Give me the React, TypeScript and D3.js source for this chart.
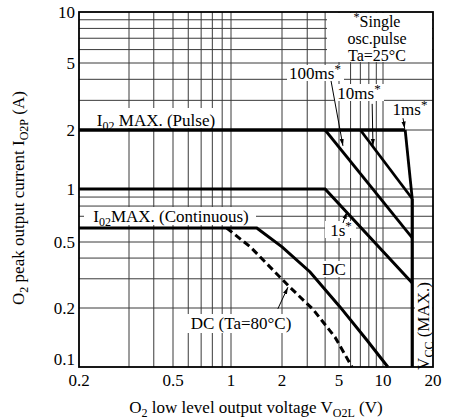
import React from 'react';
import * as d3 from 'd3';

type Pt = [number, number];

// ---- axis ticks / grid ----
const xTickValues = [0.2, 0.5, 1, 2, 5, 10, 20];
const xTickLabels = ['0.2', '0.5', '1', '2', '5', '10', '20'];
const yTickValues = [10, 5, 2, 1, 0.5, 0.2, 0.1];
const yTickLabels = ['10', '5', '2', '1', '0.5', '0.2', '0.1'];
const xGridValues = [0.3, 0.4, 0.5, 0.6, 0.7, 0.8, 0.9, 1, 2, 3, 4, 5, 6, 7, 8, 9, 10];
const yGridValues = [9, 8, 7, 6, 5, 4, 3, 2, 1, 0.9, 0.8, 0.7, 0.6, 0.5, 0.4, 0.3, 0.2];

// ---- series (V, A) ----
const pulseMax: Pt[] = [[0.2, 2], [13.6, 2]];
const pulse1ms: Pt[] = [[13.6, 2], [15, 0.88]];
const pulse10ms: Pt[] = [[7, 2], [15, 0.88]];
const pulse100ms: Pt[] = [[4, 2], [15, 0.527]];
const pulse1s: Pt[] = [[0.2, 1], [4, 1], [15, 0.283]];
const dcLimit: Pt[] = [[0.2, 0.6], [1.42, 0.6], [2.0, 0.467], [3.14, 0.33], [5.08, 0.203], [7.77, 0.137], [10.7, 0.1]];
const dc80Limit: Pt[] = [[0.95, 0.6], [1.3, 0.467], [1.77, 0.339], [2.27, 0.267], [3.29, 0.197], [4.69, 0.142], [6.14, 0.1]];
const vccMax: Pt[] = [[15, 0.88], [15, 0.1]];

// leader lines for annotations
const lead100ms: Pt[] = [[4.4, 3.91], [5.32, 1.66]];
const lead10ms: Pt[] = [[8.43, 2.86], [8.54, 1.66]];
const lead1ms: Pt[] = [[13.2, 2.35], [13.5, 2.04]];
const lead1s: Pt[] = [[5.32, 0.641], [5.67, 0.74]];
const leadDc80: Pt[] = [[1.89, 0.198], [2.2, 0.267]];

const FONT = "'Liberation Serif','Times New Roman',Times,serif";

// printed chart has slightly uneven decades: piecewise log scales
const x = d3.scaleLog()
  .domain([0.2, 0.3, 0.5, 1, 2, 5, 10, 20])
  .range([79, 129, 173, 231, 282, 339, 383, 433]);
const y = d3.scaleLog()
  .domain([10, 5, 2, 1, 0.5, 0.2, 0.1])
  .range([12, 63, 130, 189, 242, 308, 367]);

const X0 = 79, X1 = 433, Y0 = 12, Y1 = 367;

const line = d3.line<Pt>().x(d => x(d[0])).y(d => y(d[1]));

type Part = { t: string; sub?: boolean; sup?: boolean };
function rich(parts: Part[], subSize = 12) {
  const out: React.ReactNode[] = [];
  let shift = 0;
  parts.forEach((p, i) => {
    let target = 0;
    if (p.sub) target = 4;
    if (p.sup) target = -6;
    const dy = target - shift;
    shift = target;
    out.push(
      <tspan key={i} dy={dy !== 0 ? dy : undefined} fontSize={p.sub || p.sup ? subSize : undefined}>
        {p.t}
      </tspan>
    );
  });
  return out;
}

export default function App() {
  const fs = 17;
  return (
    <svg width={451} height={420} style={{ position: 'absolute', left: 0, top: 0 }} fontFamily={FONT} fontSize={fs}>
      <defs>
        <marker id="arr" viewBox="0 0 10 10" refX="10" refY="5" markerWidth="7" markerHeight="7" orient="auto">
          <path d="M0,2 L10,5 L0,8 z" fill="#000" />
        </marker>
      </defs>
      <rect x={0} y={0} width={451} height={420} fill="#fff" />

      {/* grid */}
      <g stroke="#3a3a3a" strokeWidth={1}>
        {xGridValues.map(v => (
          <line key={'gx' + v} x1={x(v)} x2={x(v)} y1={Y0} y2={Y1} />
        ))}
        {yGridValues.map(v => (
          <line key={'gy' + v} x1={X0} x2={X1} y1={y(v)} y2={y(v)} />
        ))}
      </g>

      {/* label backgrounds */}
      <g fill="#fff">
        <rect x={327} y={13} width={105} height={49} />
        <rect x={287} y={65} width={57} height={16} />
        <rect x={334} y={84} width={50} height={17} />
        <rect x={390} y={102} width={40} height={15} />
        <rect x={90} y={108} width={130} height={20} />
        <rect x={84} y={207} width={172} height={18} />
        <rect x={325} y={221} width={31} height={17} />
        <rect x={319} y={261} width={30} height={16} />
        <rect x={187} y={314} width={108} height={19} />
        <rect x={415} y={284} width={17} height={82} />
      </g>

      {/* curves */}
      <g fill="none" stroke="#000" strokeLinejoin="miter">
        <path d={line(pulseMax) || ''} strokeWidth={3.4} />
        <path d={line(pulse1ms) || ''} strokeWidth={2.8} />
        <path d={line(pulse10ms) || ''} strokeWidth={2.8} />
        <path d={line(pulse100ms) || ''} strokeWidth={2.8} />
        <path d={line(pulse1s) || ''} strokeWidth={3} />
        <path d={line(dcLimit) || ''} strokeWidth={3} />
        <path d={line(dc80Limit) || ''} strokeWidth={3} strokeDasharray="7,4" />
        <path d={line(vccMax) || ''} strokeWidth={3.2} />
      </g>

      {/* leaders */}
      <g fill="none" stroke="#000" strokeWidth={1}>
        {[lead100ms, lead10ms, lead1ms, lead1s, leadDc80].map((l, i) => (
          <path key={i} d={line(l) || ''} markerEnd="url(#arr)" />
        ))}
      </g>

      {/* annotations */}
      <g fill="#000">
        <text x={156} y={126} textAnchor="middle">
          {rich([{ t: 'I' }, { t: '02', sub: true }, { t: ' MAX. (Pulse)' }])}
        </text>
        <text x={171} y={222} textAnchor="middle">
          {rich([{ t: 'I' }, { t: '02', sub: true }, { t: 'MAX. (Continuous)' }])}
        </text>
        <g fontSize={16}>
          <text x={377} y={27} textAnchor="middle">
            {rich([{ t: '*', sup: true }, { t: 'Single' }], 12)}
          </text>
          <text x={377} y={44} textAnchor="middle">osc.pulse</text>
          <text x={377} y={61} textAnchor="middle">Ta=25°C</text>
        </g>
        <text x={315} y={79} textAnchor="middle">
          {rich([{ t: '100ms' }, { t: '*', sup: true }], 13)}
        </text>
        <text x={359} y={99} textAnchor="middle">
          {rich([{ t: '10ms' }, { t: '*', sup: true }], 13)}
        </text>
        <text x={410} y={115} textAnchor="middle">
          {rich([{ t: '1ms' }, { t: '*', sup: true }], 13)}
        </text>
        <text x={341} y={236} textAnchor="middle">
          {rich([{ t: '1s' }, { t: '*', sup: true }], 13)}
        </text>
        <text x={334} y={275} textAnchor="middle">DC</text>
        <text x={241} y={329} textAnchor="middle">DC (Ta=80°C)</text>
        <text transform="translate(429,326) rotate(-90)" textAnchor="middle">
          {rich([{ t: 'V' }, { t: 'CC', sub: true }, { t: ' (MAX.)' }])}
        </text>
      </g>

      {/* frame */}
      <rect x={X0} y={Y0} width={X1 - X0} height={Y1 - Y0} fill="none" stroke="#000" strokeWidth={1.8} />

      {/* tick labels */}
      <g fill="#000">
        {xTickValues.map((v, i) => (
          <text key={'xt' + v} x={x(v)} y={386} textAnchor="middle">{xTickLabels[i]}</text>
        ))}
        {yTickValues.map((v, i) => (
          <text key={'yt' + v} x={75} y={Math.min(y(v) + 6, 365)} textAnchor="end">{yTickLabels[i]}</text>
        ))}
      </g>

      {/* axis titles */}
      <text x={256} y={413} textAnchor="middle">
        {rich([{ t: 'O' }, { t: '2', sub: true }, { t: ' low level output voltage V' }, { t: 'O2L', sub: true }, { t: ' (V)' }])}
      </text>
      <text transform="translate(24,198) rotate(-90)" textAnchor="middle">
        {rich([{ t: 'O' }, { t: '2', sub: true }, { t: ' peak output current I' }, { t: 'O2P', sub: true }, { t: ' (A)' }])}
      </text>
    </svg>
  );
}
